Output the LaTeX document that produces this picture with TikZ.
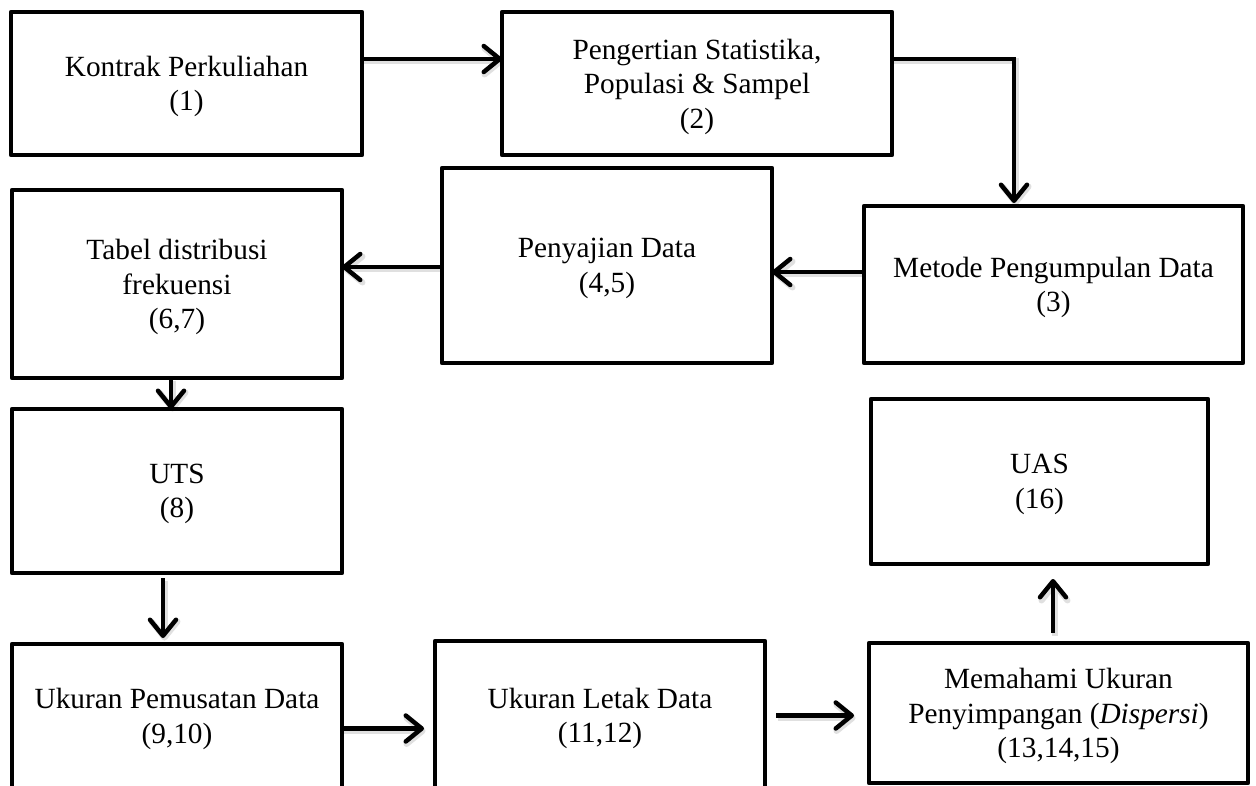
\documentclass[tikz,border=0pt]{standalone}
\usepackage{fontspec}
\setmainfont{Liberation Serif}
\usetikzlibrary{arrows.meta}
\pgfdeclarelayer{paper}
\pgfdeclarelayer{links}
\pgfsetlayers{paper,links,main}
\begin{document}
\begin{tikzpicture}[x=1pt,y=-1pt,
  box/.style={draw, line width=4.5pt, line join=round, rectangle,
    inner sep=0pt, outer sep=0pt},
  lbl/.style={align=center, inner sep=0pt, yshift=-3pt,
    font=\fontsize{29.3pt}{34.5pt}\selectfont},
  conn/.style={line width=4.5pt,
    -{Straight Barb[length=16pt,width=26pt,line cap=round,line join=round]},
    preaction={draw=black!12, line width=6pt,
      transform canvas={xshift=1.5pt,yshift=-2.5pt}}}]
\useasboundingbox (0,0) rectangle (1256,786);
\clip (0,0) rectangle (1256,786);
\begin{pgfonlayer}{paper}
\fill[white] (0,0) rectangle (1256,786);
\end{pgfonlayer}

\node[box, minimum width=351pt, minimum height=143pt,
  label={[lbl]center:{Kontrak Perkuliahan\\(1)}}] (k1) at (186.5,83.5) {};
\node[box, minimum width=390pt, minimum height=143pt,
  label={[lbl]center:{Pengertian Statistika,\\Populasi \& Sampel\\(2)}}] (k2) at (697,83.5) {};
\node[box, minimum width=379pt, minimum height=157pt,
  label={[lbl]center:{Metode Pengumpulan Data\\(3)}}] (k3) at (1053.5,284.5) {};
\node[box, minimum width=330pt, minimum height=195pt,
  label={[lbl]center:{Penyajian Data\\(4,5)}}] (k4) at (607,265.5) {};
\node[box, minimum width=330pt, minimum height=188pt,
  label={[lbl]center:{Tabel distribusi\\frekuensi\\(6,7)}}] (k5) at (177,284) {};
\node[box, minimum width=330pt, minimum height=164pt,
  label={[lbl]center:{UTS\\(8)}}] (k6) at (177,491) {};
\node[box, minimum width=330pt, minimum height=144pt,
  label={[lbl]center:{Ukuran Pemusatan Data\\(9,10)}}] (k7) at (177,716) {};
\node[box, minimum width=330pt, minimum height=149pt,
  label={[lbl]center:{Ukuran Letak Data\\(11,12)}}] (k8) at (600,715.5) {};
\node[box, minimum width=379pt, minimum height=140pt,
  label={[lbl]center:{Memahami Ukuran\\Penyimpangan (\textit{Dispersi})\\(13,14,15)}}] (k9) at (1058.5,713) {};
\node[box, minimum width=337pt, minimum height=165pt,
  label={[lbl]center:{UAS\\(16)}}] (k10) at (1039.5,481.5) {};

\begin{pgfonlayer}{links}
\coordinate (a12) at ([yshift=24.5pt]k1.east);
\draw[conn] (a12) -- (a12 -| k2.west);
\coordinate (a23) at ([yshift=24.5pt]k2.east);
\draw[conn, shorten >=3pt] (a23) -| ([xshift=-39.5pt]k3.north);
\coordinate (a34) at ([yshift=12.5pt]k3.west);
\draw[conn] (a34) -- (a34 -| k4.east);
\coordinate (a45) at ([yshift=-1.5pt]k4.west);
\draw[conn] (a45) -- (a45 -| k5.east);
\coordinate (a56) at ([xshift=-6pt]k5.south);
\draw[conn] (a56) -- (a56 |- k6.north);
\coordinate (a67) at ([xshift=-14pt]k6.south);
\draw[conn, shorten <=5pt, shorten >=6pt] (a67) -- (a67 |- k7.north);
\coordinate (a78) at ([yshift=-12.5pt]k7.east);
\draw[conn, shorten >=11pt] (a78) -- (a78 -| k8.west);
\coordinate (a89) at (k8.east);
\draw[conn, shorten <=11pt, shorten >=15pt] (a89) -- (a89 -| k9.west);
\coordinate (a910) at ([xshift=-5.5pt]k9.north);
\draw[conn, shorten <=10pt, shorten >=15pt] (a910) -- (a910 |- k10.south);
\end{pgfonlayer}
\end{tikzpicture}
\end{document}
